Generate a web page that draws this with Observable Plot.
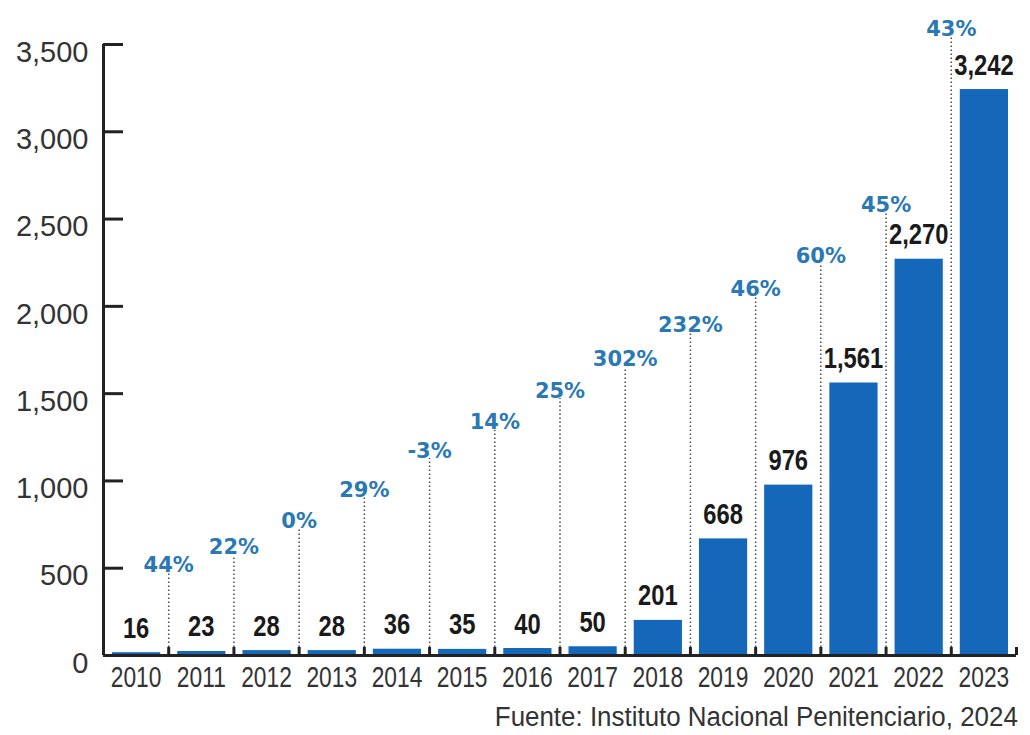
<!DOCTYPE html>
<html>
<head>
<meta charset="utf-8">
<script src="https://cdn.jsdelivr.net/npm/d3@7"></script>
<script src="https://cdn.jsdelivr.net/npm/@observablehq/plot@0.6"></script>
<style>
  html, body { margin: 0; padding: 0; background: #fff; }
  #chart { width: 1030px; height: 700px; }
  .caption-wrap { width: 1018px; text-align: right; margin-top: 2px; height: 33px; }
  .caption { display: inline-block; font-family: "Liberation Sans", "DejaVu Sans", sans-serif; font-size: 27px; color: #333;
             line-height: 30px; transform: scaleX(0.96); transform-origin: right center; white-space: nowrap; }
</style>
</head>
<body>
<div id="chart"></div>
<div class="caption-wrap"><span class="caption">Fuente: Instituto Nacional Penitenciario, 2024</span></div>
<script>
const years = [2010, 2011, 2012, 2013, 2014, 2015, 2016, 2017, 2018, 2019, 2020, 2021, 2022, 2023];
const values = [16, 23, 28, 28, 36, 35, 40, 50, 201, 668, 976, 1561, 2270, 3242];
const pctLabels = ["44%", "22%", "0%", "29%", "-3%", "14%", "25%", "302%", "232%", "46%", "60%", "45%", "43%"];
// height (in y units) of the dotted guide line reaching up to each percentage label
const pctLevels = [470, 573, 727, 905, 1128, 1289, 1472, 1650, 1850, 2051, 2245, 2532, 3545];
const yTicks = [0, 500, 1000, 1500, 2000, 2500, 3000, 3500];

const data = years.map((year, i) => ({year, value: values[i]}));
const pctData = pctLabels.map((label, i) => ({x: years[i + 1] - 0.5, label, level: pctLevels[i]}));
const boundaries = years.map(y => y + 0.5);
const fmt = d3.format(",");

const chart = Plot.plot({
  width: 1030,
  height: 700,
  marginLeft: 103,
  marginRight: 14,
  marginTop: 44,
  marginBottom: 45,
  style: {background: "white", overflow: "visible"},
  x: {domain: [2009.5, 2023.5]},
  y: {domain: [0, 3500]},
  marks: [
    Plot.rectY(data, {x1: d => d.year - 0.5, x2: d => d.year + 0.5, y: "value", fill: "#1467b9", insetLeft: 9, insetRight: 8}),
    Plot.ruleX(pctData, {x: "x", y1: 0, y2: "level", stroke: "#4a4a4a", strokeDasharray: "1.5,2.5", strokeWidth: 1.5}),
    Plot.text(pctData, {x: "x", y: "level", text: "label", lineAnchor: "bottom", dy: -1, fill: "#2a78b4",
      fontWeight: "bold", fontSize: 21, fontFamily: "DejaVu Sans"}),
    Plot.text(data, {x: "year", y: "value", text: d => fmt(d.value), lineAnchor: "bottom", dy: -15,
      fill: "#1a1a1a", fontWeight: "bold", fontSize: 29, fontFamily: "Liberation Sans, DejaVu Sans, sans-serif"}),
    Plot.axisX({ticks: years, tickFormat: d => String(d), tickSize: 0, tickPadding: 10, fontSize: 30,
      fontFamily: "Liberation Sans, DejaVu Sans, sans-serif", fill: "#333", label: null}),
    Plot.axisX({ticks: boundaries, tickSize: -8, text: null, strokeWidth: 3, stroke: "#222", label: null}),
    Plot.axisY({ticks: yTicks, tickFormat: fmt, tickSize: 0, tickPadding: 15, dy: 8, fontSize: 29,
      fontFamily: "Liberation Sans, DejaVu Sans, sans-serif", fill: "#333", label: null}),
    Plot.axisY({ticks: yTicks, tickSize: -20, text: null, strokeWidth: 3, stroke: "#222", label: null}),
    Plot.ruleX([2009.5], {y1: 0, y2: 3500, strokeWidth: 3, stroke: "#222"}),
    Plot.ruleY([0], {strokeWidth: 3, stroke: "#222"})
  ]
});

// horizontally condense label text (the source uses a narrow typeface)
function squeeze(elements, s) {
  elements.forEach(el => {
    let t = el.getAttribute("transform") || "";
    const x = el.getAttribute("x"), y = el.getAttribute("y");
    const nx = x != null && isFinite(+x) ? +x : null;
    const ny = y != null && isFinite(+y) ? +y : null;
    if (nx != null || ny != null) {
      t = `translate(${nx || 0},${ny || 0}) ` + t;
      if (nx != null) el.removeAttribute("x");
      if (ny != null) el.removeAttribute("y");
    }
    el.setAttribute("transform", t + ` scale(${s},1)`);
  });
}
const textGroups = chart.querySelectorAll('g[aria-label="text"]');
const valueGroup = textGroups[textGroups.length - 1];
squeeze(valueGroup.querySelectorAll("text"), 0.82);
squeeze(chart.querySelectorAll('g[aria-label="x-axis tick label"] text'), 0.76);

document.getElementById("chart").appendChild(chart);
</script>
</body>
</html>
